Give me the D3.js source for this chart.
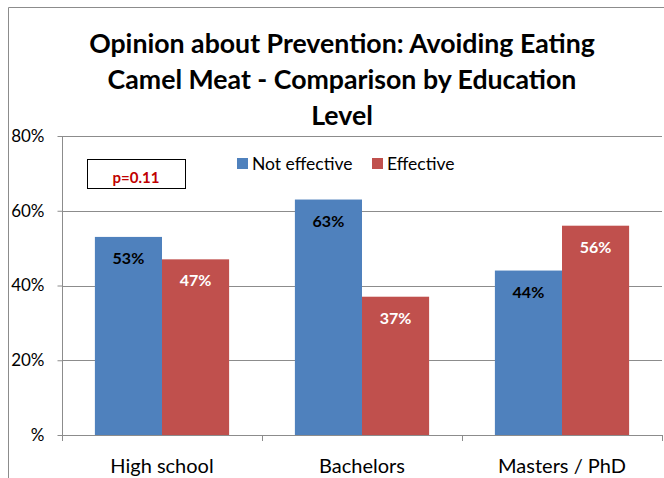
<!DOCTYPE html>
<html><head><meta charset="utf-8">
<script src="https://cdn.jsdelivr.net/npm/d3@7"></script>
<style>body{margin:0;background:#fff}svg{display:block}text{font-family:Lato,"Open Sans",sans-serif}</style>
</head><body>
<script>
const categories = ["High school", "Bachelors", "Masters / PhD"];
const seriesNames = ["Not effective", "Effective"];
const notEffective = [53, 63, 44];
const effective = [47, 37, 56];
const valueLabels = [["53%", "63%", "44%"], ["47%", "37%", "56%"]];
const yTicks = [0, 20, 40, 60, 80];
const yTickLabels = ["%", "20%", "40%", "60%", "80%"];
const titleLines = ["Opinion about Prevention: Avoiding Eating", "Camel Meat - Comparison by Education", "Level"];
const annotation = "p=0.11";
const colors = ["#4f81bd", "#c0504d"];

const W = 664, H = 478;
const svg = d3.select("body").append("svg").attr("width", W).attr("height", H);

// outer frame
svg.append("path").attr("d", `M8.5,${H} L8.5,7.5 L${W},7.5`).attr("fill", "none").attr("stroke", "#8c8c8c").attr("stroke-width", 1);

const x0 = d3.scaleBand().domain(categories).range([62, 662]).paddingInner(0).paddingOuter(0);
const x1 = d3.scaleBand().domain(seriesNames).range([0, x0.bandwidth()]).paddingInner(0).paddingOuter(0.49);
const y = d3.scaleLinear().domain([0, 80]).range([435, 136]);

// gridlines
svg.append("g").selectAll("line").data(yTicks.filter(d => d > 0)).join("line")
  .attr("x1", 62).attr("x2", 662).attr("y1", d => Math.round(y(d)) + 0.5).attr("y2", d => Math.round(y(d)) + 0.5)
  .attr("stroke", "#8c8c8c").attr("stroke-width", 1);

// y axis
const yAxis = svg.append("g").attr("transform", "translate(62.5,0)")
  .call(d3.axisLeft(y).tickValues(yTicks).tickFormat((d, i) => yTickLabels[i]).tickSize(5).tickPadding(13));
yAxis.select(".domain").attr("stroke", "#8c8c8c").attr("d", `M0,${y(80)}V${y(0)}`);
yAxis.selectAll(".tick line").attr("stroke", "#8c8c8c");
yAxis.selectAll(".tick text").attr("font-size", 17).attr("fill", "#000").style("font-family", "Lato");

// bars
const data = categories.map((c, i) => ({ c, vals: [notEffective[i], effective[i]] }));
const groups = svg.append("g").selectAll("g").data(data).join("g")
  .attr("transform", d => `translate(${x0(d.c)},0)`);
groups.selectAll("rect").data((d, i) => d.vals.map((v, j) => ({ v, j, i }))).join("rect")
  .attr("x", d => x1(seriesNames[d.j])).attr("width", x1.bandwidth())
  .attr("y", d => y(d.v)).attr("height", d => y(0) - y(d.v))
  .attr("fill", d => colors[d.j]);
groups.selectAll("text").data((d, i) => d.vals.map((v, j) => ({ v, j, i }))).join("text")
  .attr("x", d => x1(seriesNames[d.j]) + x1.bandwidth() / 2)
  .attr("y", d => y(d.v) + 27)
  .attr("text-anchor", "middle").attr("font-size", 16).attr("font-weight", "bold")
  .attr("fill", d => d.j === 0 ? "#000" : "#fff")
  .text(d => valueLabels[d.j][d.i]);

// x axis
const xAxis = svg.append("g").attr("transform", `translate(0,${y(0) + 0.5})`)
  .call(d3.axisBottom(x0).tickSize(0).tickPadding(23));
xAxis.select(".domain").attr("stroke", "#8c8c8c").attr("d", "M62,0H662");
xAxis.selectAll(".tick text").attr("font-size", 20).attr("fill", "#000").style("font-family", "Lato");
svg.append("g").selectAll("line").data([62, 262, 462, 662]).join("line")
  .attr("x1", d => d + 0.5).attr("x2", d => d + 0.5).attr("y1", y(0)).attr("y2", y(0) + 6)
  .attr("stroke", "#8c8c8c");

// title
svg.append("g").selectAll("text").data(titleLines).join("text")
  .attr("x", 342).attr("y", (d, i) => 53 + i * 36)
  .attr("text-anchor", "middle").attr("font-size", 26.7).attr("font-weight", "bold").attr("fill", "#000")
  .text(d => d);

// legend
const leg = svg.append("g");
const legX = [237, 372];
seriesNames.forEach((s, i) => {
  leg.append("rect").attr("x", legX[i]).attr("y", 158).attr("width", 11).attr("height", 11).attr("fill", colors[i]);
  leg.append("text").attr("x", legX[i] + 15).attr("y", 170).attr("font-size", 17.5).attr("fill", "#000").text(s);
});

// annotation box
svg.append("rect").attr("x", 87.5).attr("y", 159.5).attr("width", 98).attr("height", 29)
  .attr("fill", "#fff").attr("stroke", "#000").attr("stroke-width", 1);
svg.append("text").attr("x", 136).attr("y", 183).attr("text-anchor", "middle")
  .attr("font-size", 15).attr("font-weight", "bold").attr("fill", "#c00000").text(annotation);
</script>
</body></html>
